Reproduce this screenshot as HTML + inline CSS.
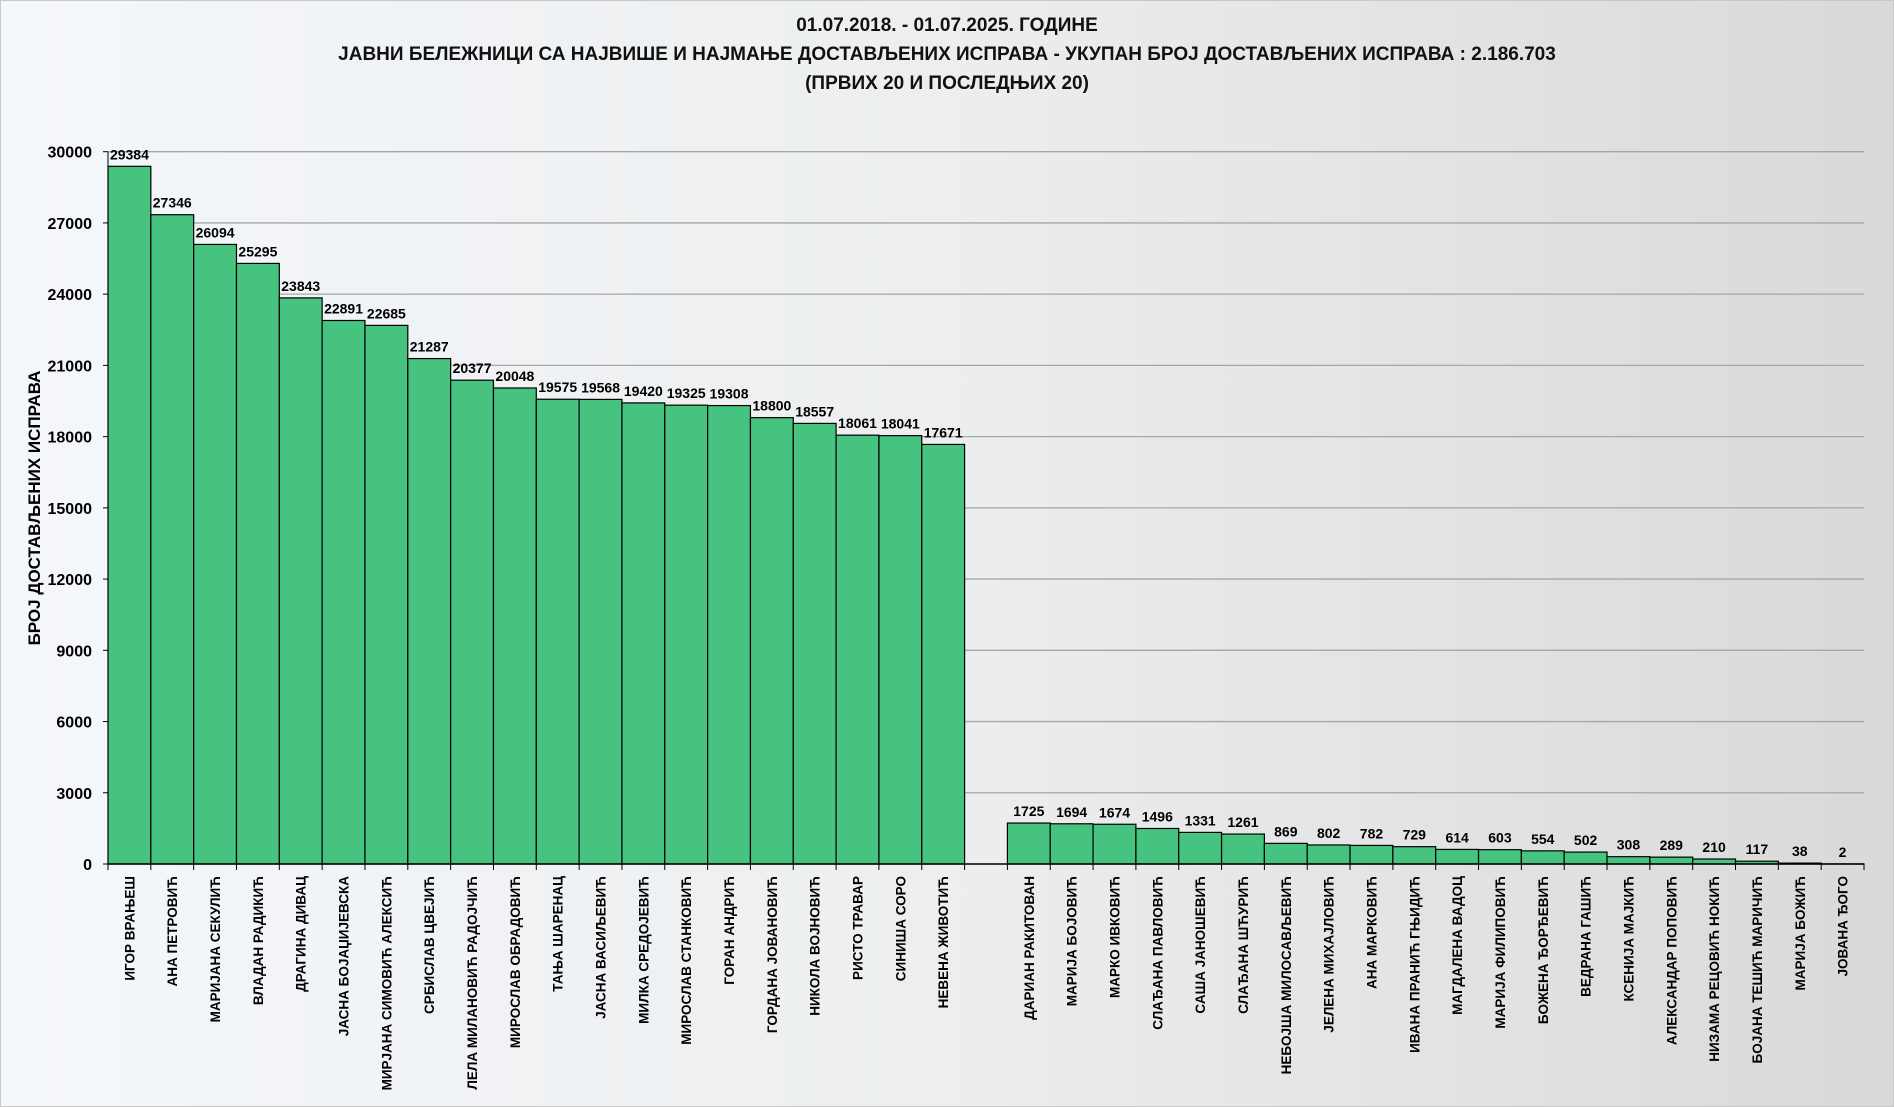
<!DOCTYPE html>
<html><head><meta charset="utf-8"><style>
html,body{margin:0;padding:0;width:1894px;height:1107px;overflow:hidden}
svg{display:block}
text{font-family:"Liberation Sans Narrow","Liberation Sans","DejaVu Sans",sans-serif}
</style></head><body>
<svg id="chart" width="1894" height="1107" xmlns="http://www.w3.org/2000/svg">
<defs><linearGradient id="bg" x1="0" x2="1" y1="0" y2="0"><stop offset="0" stop-color="#f4f7fb"/><stop offset="0.5" stop-color="#eceeef"/><stop offset="1" stop-color="#d9d9d9"/></linearGradient></defs>
<rect x="0.5" y="0.5" width="1893" height="1106" fill="url(#bg)" stroke="#c8c8c8"/>
<g font-weight="bold" font-size="19" text-anchor="middle" fill="#111">
<text x="947" y="31" style="font-family:'Liberation Sans',sans-serif">01.07.2018. - 01.07.2025. ГОДИНЕ</text>
<text x="947" y="60" style="font-family:'Liberation Sans',sans-serif">ЈАВНИ БЕЛЕЖНИЦИ СА НАЈВИШЕ И НАЈМАЊЕ ДОСТАВЉЕНИХ ИСПРАВА - УКУПАН БРОЈ ДОСТАВЉЕНИХ ИСПРАВА : 2.186.703</text>
<text x="947" y="89" style="font-family:'Liberation Sans',sans-serif">(ПРВИХ 20 И ПОСЛЕДЊИХ 20)</text>
</g>
<text transform="translate(40,508) rotate(-90)" text-anchor="middle" font-weight="bold" font-size="17" style="font-family:'Liberation Sans',sans-serif">БРОЈ ДОСТАВЉЕНИХ ИСПРАВА</text>
<g id="grid"></g><g id="bars"></g><g id="labels"></g>
</svg>
<script>
const categories=["ИГОР ВРАЊЕШ","АНА ПЕТРОВИЋ","МАРИЈАНА СЕКУЛИЋ","ВЛАДАН РАДИКИЋ","ДРАГИНА ДИВАЦ","ЈАСНА БОЈАЏИЈЕВСКА","МИРЈАНА СИМОВИЋ АЛЕКСИЋ","СРБИСЛАВ ЦВЕЈИЋ","ЛЕЛА МИЛАНОВИЋ РАДОЈЧИЋ","МИРОСЛАВ ОБРАДОВИЋ","ТАЊА ШАРЕНАЦ","ЈАСНА ВАСИЉЕВИЋ","МИЛКА СРЕДОЈЕВИЋ","МИРОСЛАВ СТАНКОВИЋ","ГОРАН АНДРИЋ","ГОРДАНА ЈОВАНОВИЋ","НИКОЛА ВОЈНОВИЋ","РИСТО ТРАВАР","СИНИША СОРО","НЕВЕНА ЖИВОТИЋ","","ДАРИАН РАКИТОВАН","МАРИЈА БОЈОВИЋ","МАРКО ИВКОВИЋ","СЛАЂАНА ПАВЛОВИЋ","САША ЈАНОШЕВИЋ","СЛАЂАНА ШЋУРИЋ","НЕБОЈША МИЛОСАВЉЕВИЋ","ЈЕЛЕНА МИХАЈЛОВИЋ","АНА МАРКОВИЋ","ИВАНА ПРАНИЋ ГЊИДИЋ","МАГДАЛЕНА ВАДОЦ","МАРИЈА ФИЛИПОВИЋ","БОЖЕНА ЂОРЂЕВИЋ","ВЕДРАНА ГАШИЋ","КСЕНИЈА МАЈКИЋ","АЛЕКСАНДАР ПОПОВИЋ","НИЗАМА РЕЦОВИЋ НОКИЋ","БОЈАНА ТЕШИЋ МАРИЧИЋ","МАРИЈА БОЖИЋ","ЈОВАНА ЂОГО"];
const values=[29384,27346,26094,25295,23843,22891,22685,21287,20377,20048,19575,19568,19420,19325,19308,18800,18557,18061,18041,17671,null,1725,1694,1674,1496,1331,1261,869,802,782,729,614,603,554,502,308,289,210,117,38,2];
const yTicks=[0,3000,6000,9000,12000,15000,18000,21000,24000,27000,30000];
const X0=108,X1=1864,Y0=864,Y1=151.7,YMAX=30000;
const y=v=>Y0-(v/YMAX)*(Y0-Y1);
const bw=(X1-X0)/categories.length;
const x=i=>X0+i*bw;
const NS="http://www.w3.org/2000/svg";
function mk(t,a,p){const e=document.createElementNS(NS,t);for(const k in a)e.setAttribute(k,a[k]);p.appendChild(e);return e;}
const grid=document.getElementById('grid'),bars=document.getElementById('bars'),labels=document.getElementById('labels');
yTicks.forEach(t=>{
 if(t>0){const l=mk('line',{x1:X0,x2:X1,y1:y(t),y2:y(t),stroke:'#a6a6a6','stroke-width':1.3},grid);
 
 }
 const tk=mk('line',{x1:X0-5,x2:X0,y1:y(t),y2:y(t),stroke:'#000'},grid);
 
 
 const tx=mk('text',{x:X0-16,y:y(t)+6,'text-anchor':'end','font-size':16,'font-weight':'bold'},grid);
 tx.textContent=t;
 
 
});
const ax=mk('line',{x1:X0,x2:X0,y1:Y1,y2:Y0,stroke:'#000'},grid);


values.forEach((v,i)=>{
 const tk=mk('line',{x1:x(i),x2:x(i),y1:Y0,y2:Y0+6,stroke:'#000'},grid);
 
 
 if(v===null)return;
 const r=mk('rect',{x:x(i),y:y(v),width:bw,height:Y0-y(v),fill:'#46c37f',stroke:'#000','stroke-width':1.2},bars);
 
 
 const vl=mk('text',{x:x(i)+bw/2,y:y(v)-7,'text-anchor':'middle','font-size':14,'font-weight':'bold'},labels);
 vl.textContent=v;
 
 
 const cl=mk('text',{transform:`translate(${x(i)+bw/2+5},876) rotate(-90)`,'text-anchor':'end','font-size':13.5,'font-weight':'bold'},labels);
 cl.textContent=categories[i];
 
 
});
const tk=mk('line',{x1:X1,x2:X1,y1:Y0,y2:Y0+6,stroke:'#000'},grid);


const bl=mk('line',{x1:X0,x2:X1,y1:Y0,y2:Y0,stroke:'#000','stroke-width':1.5},labels);


</script>
</body></html>
